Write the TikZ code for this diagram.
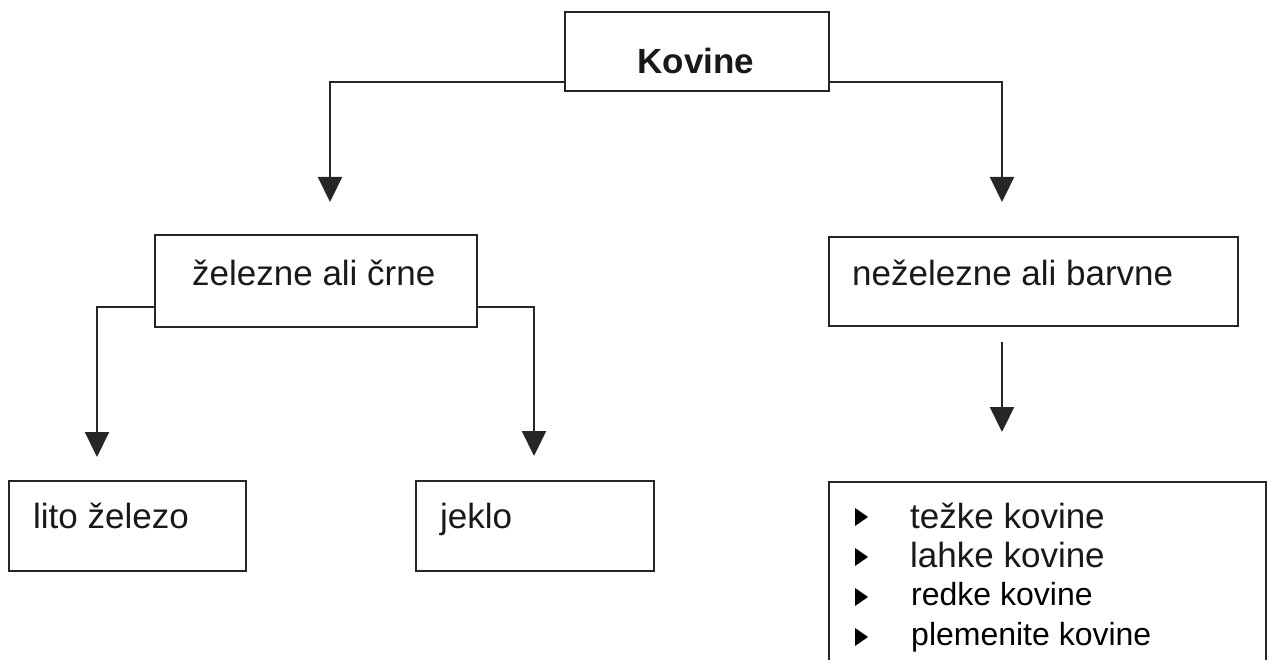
\documentclass[tikz,border=0pt]{standalone}
\usepackage{fontspec}
\setmainfont{Liberation Sans}
\usetikzlibrary{arrows.meta,calc}
\begin{document}
\begin{tikzpicture}[x=1pt,y=-1pt,
  box/.style={draw=black!85,line width=2pt,rectangle,inner sep=0pt,anchor=north west},
  lbl/.style={font=\fontsize{35}{40}\selectfont,text=black!90,inner sep=0pt,anchor=base west},
  lblb/.style={lbl,font=\fontsize{32}{38}\selectfont,text=black},
  conn/.style={draw=black!85,line width=2.2pt,-{Triangle[width=24pt,length=25pt]}},
  bul/.style={fill=black,draw=none}
]
\useasboundingbox (0,0) rectangle (1268,660);
\clip (0,0) rectangle (1268,660);
% boxes
\node[box,minimum width=264pt,minimum height=79pt] (kov) at (564,11) {};
\node[box,minimum width=322pt,minimum height=92pt] (fe) at (154,234) {};
\node[box,minimum width=409pt,minimum height=89pt] (nfe) at (828,236) {};
\node[box,minimum width=237pt,minimum height=90pt] (lito) at (8,480) {};
\node[box,minimum width=238pt,minimum height=90pt] (jek) at (415,480) {};
\node[box,minimum width=437pt,minimum height=220pt] (list) at (828,481) {};
% texts
\node[lbl,font=\fontsize{35}{40}\selectfont\bfseries,anchor=base] (tkov) at (696,74) {Kovine};
\node[lbl] (tfe) at (192,285) {železne ali črne};
\node[lbl] (tnfe) at (852,285) {neželezne ali barvne};
\node[lbl] (tlito) at (33,528) {lito železo};
\node[lbl] (tjek) at (440,528) {jeklo};
\node[lbl] (t1) at (910,528) {težke kovine};
\node[lbl] (t2) at (910,567) {lahke kovine};
\node[lblb] (t3) at (911,605) {redke kovine};
\node[lblb] (t4) at (911,645) {plemenite kovine};
% bullets
\foreach \yy in {517,557,597,637}{
  \fill[bul] (855,\yy-9) -- (868,\yy) -- (855,\yy+9) -- cycle;
}
% connector end points
\coordinate (kl) at (330,202);
\coordinate (kr) at (1002,202);
\coordinate (fl) at (97,457);
\coordinate (fr) at (534,456);
\coordinate (ns) at (1002,342);
\coordinate (ne) at (1002,432);
% connectors
\draw[conn] (kov.west |- 0,82) -| (kl);
\draw[conn] (kov.east |- 0,82) -| (kr);
\draw[conn] (fe.west |- 0,307) -| (fl);
\draw[conn] (fe.east |- 0,307) -| (fr);
\draw[conn] (ns) -- (ne);
\end{tikzpicture}
\end{document}
